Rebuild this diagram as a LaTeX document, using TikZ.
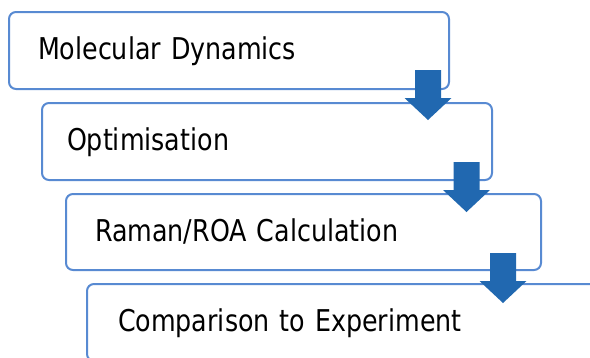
\documentclass[tikz,border=0pt]{standalone}
\usepackage{fontspec}
\setmainfont{DejaVu Sans}[FakeStretch=0.845]
\usetikzlibrary{calc}
\definecolor{boxblue}{RGB}{88,138,210}
\definecolor{arrowblue}{RGB}{33,104,176}
\begin{document}
\begin{tikzpicture}[x=1pt, y=-1pt,
    stagebox/.style={draw=boxblue, line width=2pt, rounded corners=7pt, fill=white,
        anchor=north west, outer sep=0pt, inner xsep=29pt, minimum height=77pt,
        align=left, text height=22.8pt, text depth=3.9pt,
        font=\fontsize{30}{36}\selectfont}]
    % 1. Khung hình
    \useasboundingbox (0,0) rectangle (590,357);
    \clip (0,0) rectangle (590,357);

    % 2. Các bước
    \node[stagebox, text width=382pt] (mdbox) at (9,12) {Molecular Dynamics};
    \node[stagebox, inner xsep=25pt, text width=400pt] (optbox) at (42,103) {Optimisation};
    \node[stagebox, text width=417pt, minimum height=76pt] (roabox) at (66,194) {Raman/ROA Calculation};
    \node[stagebox, inner xsep=31pt, text width=458pt] (cmpbox) at (87,284) {Comparison to Experiment};

    % 3. Mũi tên
    \foreach \b/\dx/\dy in {mdbox/-21/-19, optbox/-25.5/-18, roabox/-38/-17}
        \fill[arrowblue] ($(\b.south east)+(\dx,\dy)$) ++(-13,0) -- ++(26,0) -- ++(0,28)
            -- ++(10.5,0) -- ++(-23.5,22) -- ++(-23.5,-22) -- ++(10.5,0) -- cycle;
\end{tikzpicture}
\end{document}
